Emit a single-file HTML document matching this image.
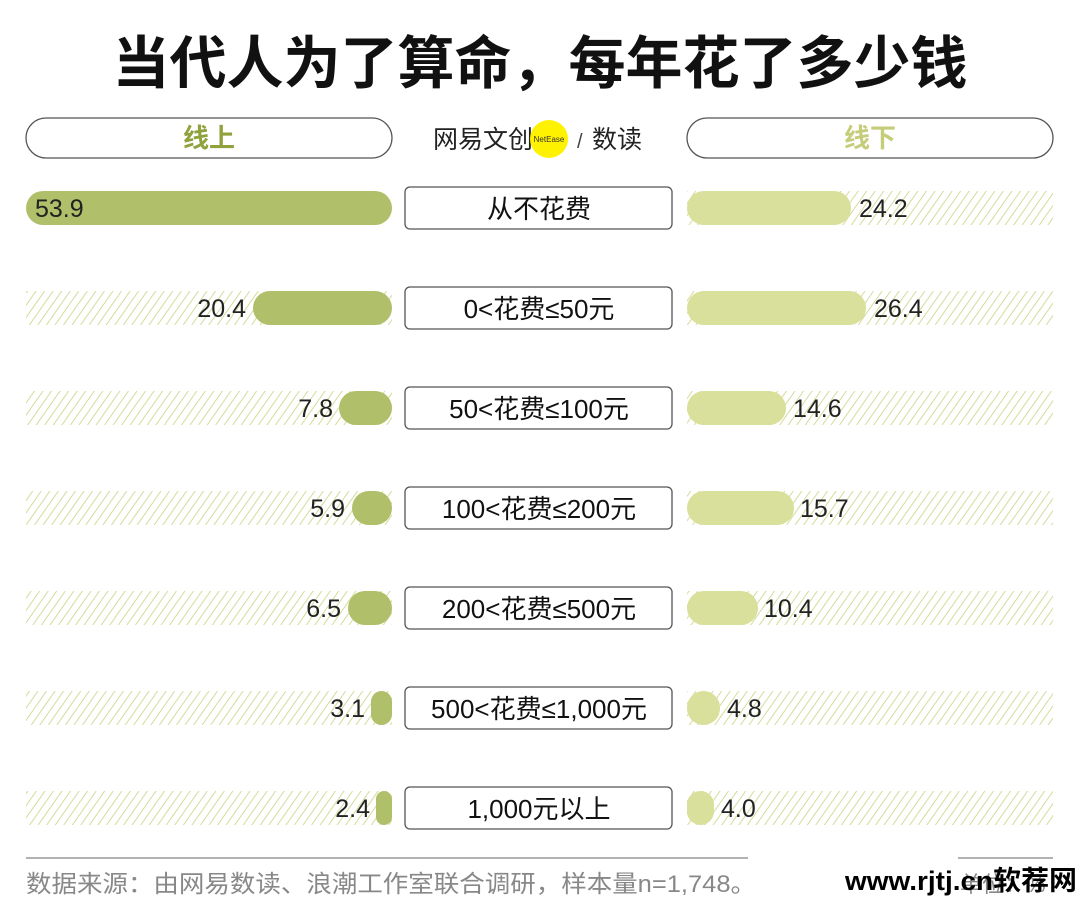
<!DOCTYPE html>
<html><head><meta charset="utf-8"><style>
body{margin:0;background:#fff;}
svg{display:block;font-family:"Liberation Sans","Noto Sans CJK SC",sans-serif;}
</style></head><body>
<svg width="1080" height="923" viewBox="0 0 1080 923" xmlns="http://www.w3.org/2000/svg">
<defs>
<pattern id="h" width="7" height="7" patternUnits="userSpaceOnUse" patternTransform="rotate(35)">
<line x1="0" y1="0" x2="0" y2="7" stroke="#cfd88f" stroke-width="1.8"/>
</pattern>
</defs>
<text x="540" y="83" text-anchor="middle" font-size="57" font-weight="bold" fill="#111" font-family="Noto Sans CJK SC,sans-serif">当代人为了算命，每年花了多少钱</text>
<rect x="26" y="118" width="366" height="40" rx="20" fill="#fff" stroke="#555" stroke-width="1.3"/>
<rect x="687" y="118" width="366" height="40" rx="20" fill="#fff" stroke="#555" stroke-width="1.3"/>
<text x="209" y="147" text-anchor="middle" font-size="26" font-weight="bold" fill="#8fa23c" font-family="Noto Sans CJK SC,sans-serif">线上</text>
<text x="870" y="147" text-anchor="middle" font-size="26" font-weight="bold" fill="#c5cc7a" font-family="Noto Sans CJK SC,sans-serif">线下</text>
<text x="433" y="148" font-size="25" fill="#222" font-family="Noto Sans CJK SC,sans-serif">网易文创</text>
<circle cx="549" cy="139" r="19" fill="#fff200"/>
<text x="549" y="142" text-anchor="middle" font-size="8" fill="#333">NetEase</text>
<text x="577" y="148" font-size="20" fill="#444">/</text>
<text x="592" y="148" font-size="25" fill="#222" font-family="Noto Sans CJK SC,sans-serif">数读</text>
<g font-size="25" fill="#222">
<rect x="26" y="291" width="366" height="34" fill="url(#h)"/>
<rect x="26" y="391" width="366" height="34" fill="url(#h)"/>
<rect x="26" y="491" width="366" height="34" fill="url(#h)"/>
<rect x="26" y="591" width="366" height="34" fill="url(#h)"/>
<rect x="26" y="691" width="366" height="34" fill="url(#h)"/>
<rect x="26" y="791" width="366" height="34" fill="url(#h)"/>
<rect x="687" y="191" width="366" height="34" fill="url(#h)"/>
<rect x="687" y="291" width="366" height="34" fill="url(#h)"/>
<rect x="687" y="391" width="366" height="34" fill="url(#h)"/>
<rect x="687" y="491" width="366" height="34" fill="url(#h)"/>
<rect x="687" y="591" width="366" height="34" fill="url(#h)"/>
<rect x="687" y="691" width="366" height="34" fill="url(#h)"/>
<rect x="687" y="791" width="366" height="34" fill="url(#h)"/>
<rect x="26" y="191" width="366" height="34" rx="17" fill="#b0bf6a"/>
<rect x="253" y="291" width="139" height="34" rx="17" fill="#b0bf6a"/>
<rect x="339" y="391" width="53" height="34" rx="17" fill="#b0bf6a"/>
<rect x="352" y="491" width="40" height="34" rx="17" fill="#b0bf6a"/>
<rect x="348" y="591" width="44" height="34" rx="17" fill="#b0bf6a"/>
<rect x="371" y="691" width="21" height="34" rx="10.5" fill="#b0bf6a"/>
<rect x="376" y="791" width="16" height="34" rx="8" fill="#b0bf6a"/>
<rect x="687" y="191" width="164" height="34" rx="17" fill="#d9e09b"/>
<rect x="687" y="291" width="179" height="34" rx="17" fill="#d9e09b"/>
<rect x="687" y="391" width="99" height="34" rx="17" fill="#d9e09b"/>
<rect x="687" y="491" width="107" height="34" rx="17" fill="#d9e09b"/>
<rect x="687" y="591" width="71" height="34" rx="17" fill="#d9e09b"/>
<rect x="687" y="691" width="33" height="34" rx="16.5" fill="#d9e09b"/>
<rect x="687" y="791" width="27" height="34" rx="13.5" fill="#d9e09b"/>
<text x="35" y="217">53.9</text>
<text x="246" y="317" text-anchor="end">20.4</text>
<text x="333" y="417" text-anchor="end">7.8</text>
<text x="345" y="517" text-anchor="end">5.9</text>
<text x="341" y="617" text-anchor="end">6.5</text>
<text x="365" y="717" text-anchor="end">3.1</text>
<text x="370" y="817" text-anchor="end">2.4</text>
<text x="859" y="217">24.2</text>
<text x="874" y="317">26.4</text>
<text x="793" y="417">14.6</text>
<text x="800" y="517">15.7</text>
<text x="764" y="617">10.4</text>
<text x="727" y="717">4.8</text>
<text x="721" y="817">4.0</text>
</g>
<g font-size="26" fill="#111" text-anchor="middle">
<rect x="405" y="187" width="267" height="42" rx="5" fill="#fff" stroke="#555" stroke-width="1.3"/>
<rect x="405" y="287" width="267" height="42" rx="5" fill="#fff" stroke="#555" stroke-width="1.3"/>
<rect x="405" y="387" width="267" height="42" rx="5" fill="#fff" stroke="#555" stroke-width="1.3"/>
<rect x="405" y="487" width="267" height="42" rx="5" fill="#fff" stroke="#555" stroke-width="1.3"/>
<rect x="405" y="587" width="267" height="42" rx="5" fill="#fff" stroke="#555" stroke-width="1.3"/>
<rect x="405" y="687" width="267" height="42" rx="5" fill="#fff" stroke="#555" stroke-width="1.3"/>
<rect x="405" y="787" width="267" height="42" rx="5" fill="#fff" stroke="#555" stroke-width="1.3"/>
<text x="539" y="218">从不花费</text>
<text x="539" y="318">0&lt;花费≤50元</text>
<text x="539" y="418">50&lt;花费≤100元</text>
<text x="539" y="518">100&lt;花费≤200元</text>
<text x="539" y="618">200&lt;花费≤500元</text>
<text x="539" y="718">500&lt;花费≤1,000元</text>
<text x="539" y="818">1,000元以上</text>
</g>
<line x1="26" y1="858" x2="748" y2="858" stroke="#999" stroke-width="1.5"/>
<line x1="958" y1="858" x2="1053" y2="858" stroke="#999" stroke-width="1.5"/>
<text x="26" y="892" font-size="24" fill="#888" textLength="730" lengthAdjust="spacingAndGlyphs">数据来源：由网易数读、浪潮工作室联合调研，样本量n=1,748。</text>
<text x="960" y="892" font-size="22" fill="#888">单位：%</text>
<text x="845" y="890" font-size="27" font-weight="bold" fill="#000" textLength="232" lengthAdjust="spacingAndGlyphs">www.rjtj.cn软荐网</text>
</svg>
</body></html>
